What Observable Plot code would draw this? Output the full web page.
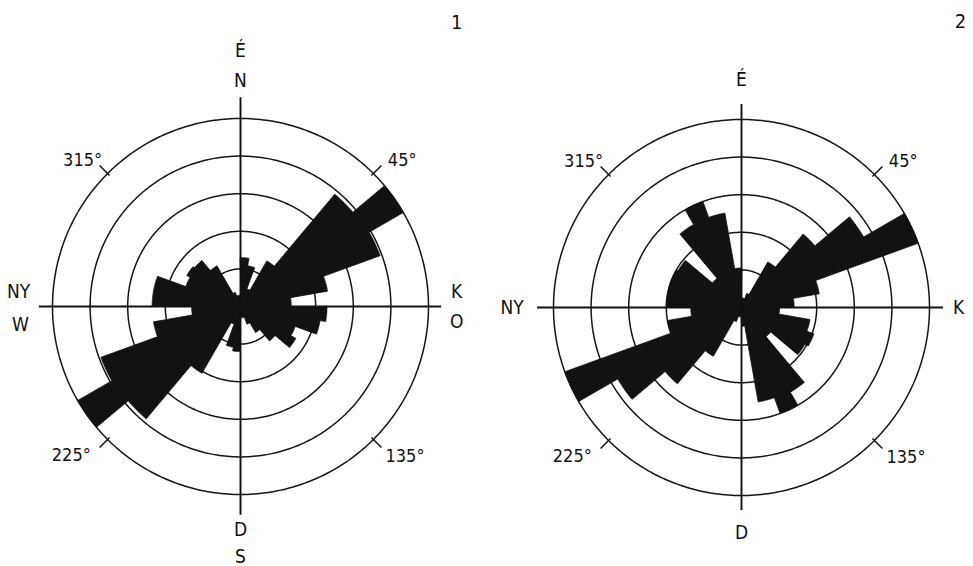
<!DOCTYPE html>
<html>
<head>
<meta charset="utf-8">
<script src="https://cdn.jsdelivr.net/npm/d3@7"></script>
<script src="https://cdn.jsdelivr.net/npm/@observablehq/plot@0.6"></script>
<style>
  html, body { margin: 0; padding: 0; background: #fff; }
  #wrap { position: relative; width: 973px; height: 566px; overflow: hidden; background: #fff; }
  #wrap svg { position: absolute; top: 0; }
</style>
</head>
<body>
<div id="wrap"></div>
<script>
// Direction classes: start azimuth of each 10° class, clockwise from north
const sectors = d3.range(0, 360, 10);

// Relative frequency (%) of each direction class, rose diagram 1
const freq1 = [2.6, 2.2, 1.0, 2.8, 7.8, 10.0, 7.9, 4.7, 2.7,
               4.6, 4.3, 3.1, 3.4, 2.4, 1.6, 1.0, 0.6, 0.6,
               2.4, 2.2, 1.0, 4.1, 7.8, 10.0, 7.9, 4.7, 2.6,
               4.7, 4.7, 3.1, 3.3, 3.2, 2.5, 0.8, 0.6, 0.6];

// Relative frequency (%) of each direction class, rose diagram 2
const freq2 = [0.5, 0.5, 0.8, 2.8, 5.1, 7.5, 10.0, 4.2, 2.8,
               2.0, 3.7, 4.1, 3.9, 2.0, 5.2, 6.0, 5.1, 1.0,
               0.5, 0.5, 0.8, 3.0, 5.3, 7.6, 10.0, 4.0, 2.7,
               4.0, 4.0, 4.0, 3.9, 2.0, 5.1, 6.0, 5.1, 2.1];

// Concentric reference circles (%)
const rings = [2, 4, 6, 8, 10];

// Diagonal azimuth ticks and their labels
const diagTicks = [45, 135, 225, 315];
const diagLabels = ["45°", "135°", "225°", "315°"];

// Cardinal direction labels (Hungarian / international)
const cardinal1 = ["É", "N", "K", "O", "D", "S", "NY", "W"];
const cardinal2 = ["É", "K", "D", "NY"];
const panelNames = ["1", "2"];

// ---- layout ----
const H = 566, R = 188;               // pixel radius of the 10 % circle
const FONT = '"DejaVu Sans Condensed", "Liberation Sans Narrow", "DejaVu Sans", sans-serif';

// where each text sits, in diagram units (10 = outer circle)
const diagPos = {"45°": [8.6, 7.8], "135°": [8.75, -7.95], "225°": [-9.0, -7.9], "315°": [-8.4, 7.8]};
const cardPos1 = {"É": [0, 13.6], "N": [0, 12.0], "K": [11.5, 0.75], "O": [11.5, -0.8],
                  "D": [0, -11.9], "S": [0, -13.3], "NY": [-11.8, 0.75], "W": [-11.7, -1.0]};
const cardPos2 = {"É": [0, 12.1], "K": [11.55, 0.0], "D": [0, -12.0], "NY": [-12.2, 0.0]};

const polar = (a, r) => [r * Math.sin(a * Math.PI / 180), r * Math.cos(a * Math.PI / 180)];

// outline of the whole rose as one closed path: an arc at each class value,
// joined by radial steps at the class boundaries (no seams between wedges)
function roseOutline(freq) {
  const pts = [];
  freq.forEach((v, i) => {
    const a0 = sectors[i];
    for (let a = a0; a <= a0 + 10 + 1e-9; a += 0.5) {
      const [x, y] = polar(a, v);
      pts.push({x, y});
    }
  });
  return pts;
}

function ringPoints() {
  const pts = [];
  for (const r of rings) {
    for (let a = 0; a < 360; a += 1) {
      const [x, y] = polar(a, r);
      pts.push({r, x, y});
    }
  }
  return pts;
}

function rose({freq, cx, cy, width, left, vUp, vDown, hLeft, hRight, cardinals, cardPos, panel, panelPos}) {
  const svg = Plot.plot({
    width, height: H, margin: 0,
    x: {domain: [-10, 10], range: [cx - R, cx + R], axis: null},
    y: {domain: [-10, 10], range: [cy + R, cy - R], axis: null},
    style: {background: "#fff", fontFamily: FONT, color: "#111"},
    marks: [
      Plot.line(ringPoints(), {x: "x", y: "y", z: "r", stroke: "#151515", strokeWidth: 1.5, curve: "linear-closed"}),
      Plot.line(roseOutline(freq), {x: "x", y: "y", fill: "#121212", stroke: "#121212",
                                    strokeWidth: 0.8, strokeLinejoin: "miter", curve: "linear-closed"}),
      Plot.ruleX([0], {y1: -vDown, y2: vUp, stroke: "#111", strokeWidth: 1.9}),
      Plot.ruleY([0], {x1: -hLeft, x2: hRight, stroke: "#111", strokeWidth: 1.9}),
      Plot.link(diagTicks, {
        x1: a => polar(a, 9.85)[0], y1: a => polar(a, 9.85)[1],
        x2: a => polar(a, 10.6)[0], y2: a => polar(a, 10.6)[1],
        stroke: "#111", strokeWidth: 1.5
      }),
      Plot.text(diagLabels, {x: d => diagPos[d][0], y: d => diagPos[d][1], text: d => d,
                             fontSize: 18, fill: "#111"}),
      Plot.text(cardinals, {x: d => cardPos[d][0], y: d => cardPos[d][1], text: d => d,
                            fontSize: 19, fill: "#111"}),
      Plot.text([panel], {x: () => panelPos[0], y: () => panelPos[1], text: d => d,
                          fontSize: 20, fill: "#111"})
    ]
  });
  svg.style.left = left + "px";
  return svg;
}

const wrap = document.getElementById("wrap");
wrap.append(rose({
  freq: freq1, cx: 240, cy: 306, width: 486, left: 0,
  vUp: 11.1, vDown: 11.1, hLeft: 10.7, hRight: 10.7,
  cardinals: cardinal1, cardPos: cardPos1, panel: panelNames[0], panelPos: [11.5, 15.1]
}));
wrap.append(rose({
  freq: freq2, cx: 255, cy: 307, width: 487, left: 486,
  vUp: 10.8, vDown: 10.8, hLeft: 10.85, hRight: 10.75,
  cardinals: cardinal2, cardPos: cardPos2, panel: panelNames[1], panelPos: [11.65, 15.2]
}));
</script>
</body>
</html>
